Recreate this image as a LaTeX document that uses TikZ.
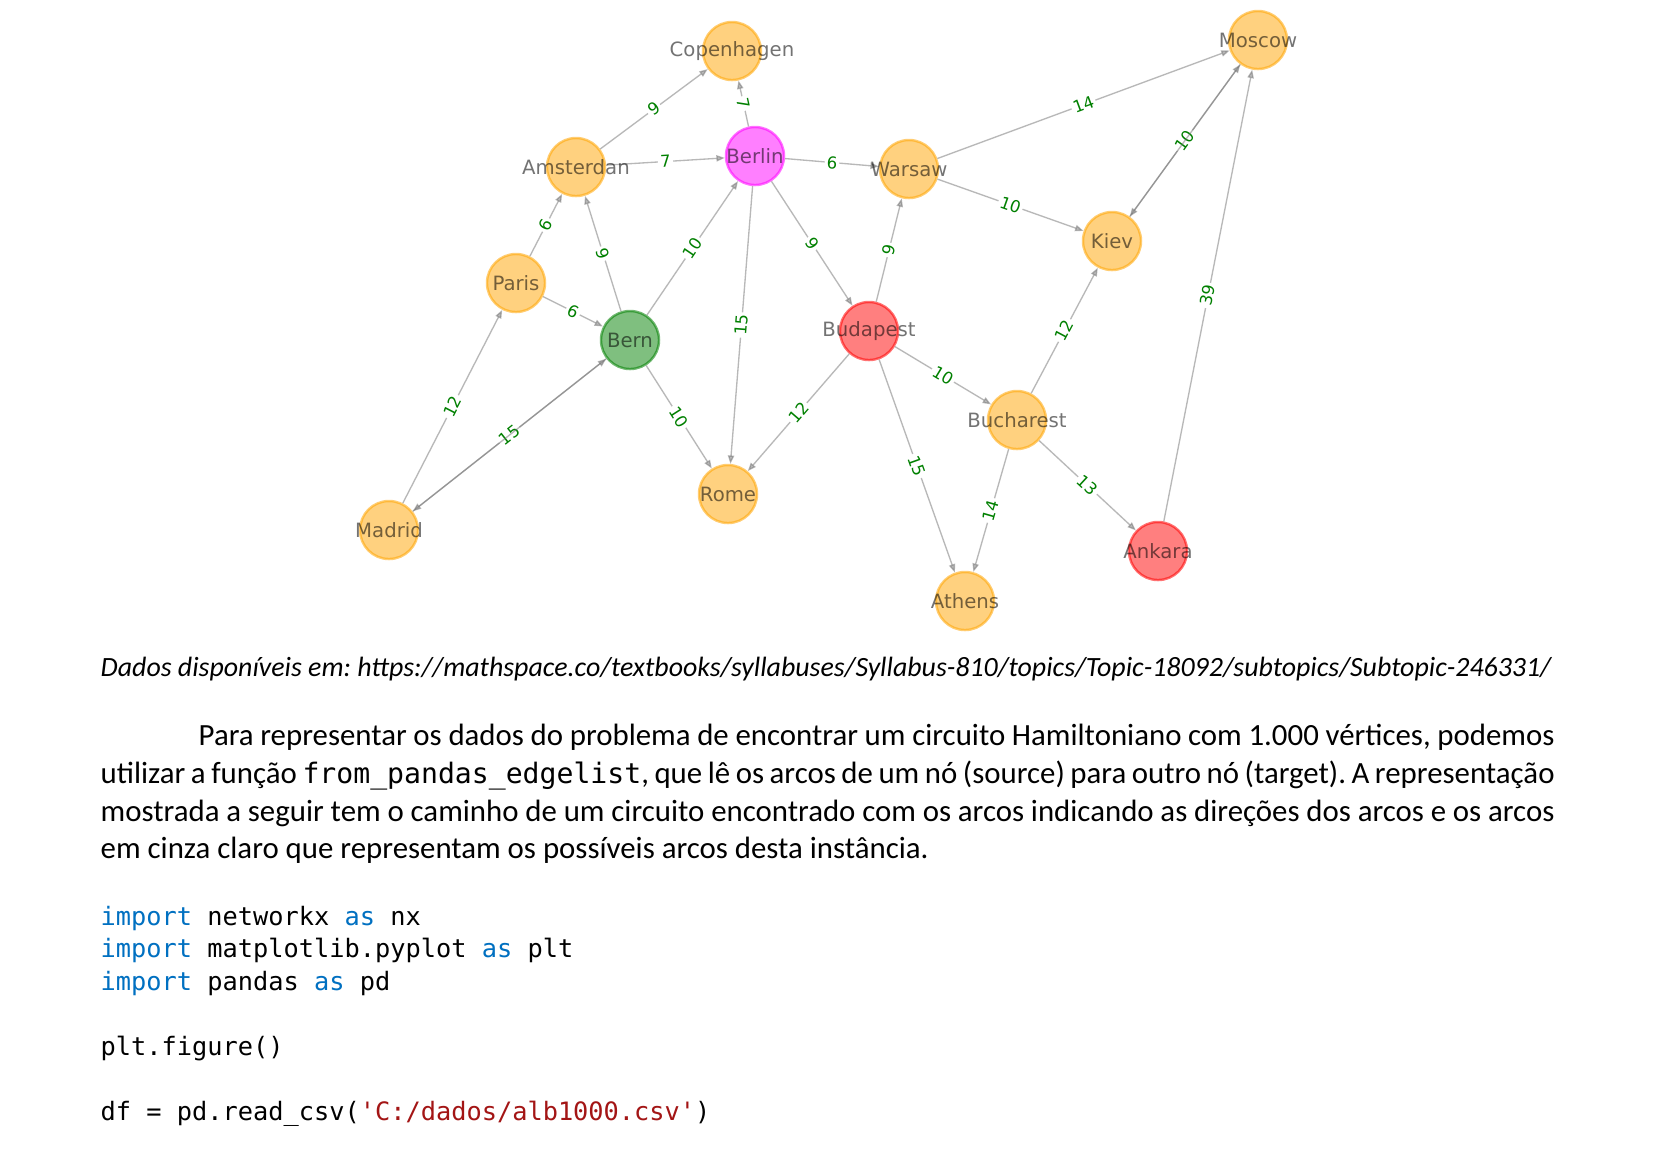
\documentclass[tikz,border=0pt]{standalone}
\usepackage{fontspec}
\setmainfont{Carlito}
\setmonofont{DejaVu Sans Mono}
\newfontfamily\dejavu{DejaVu Sans}
\usepackage{xcolor}
\usetikzlibrary{arrows.meta}

\definecolor{mplorange}{HTML}{FFA500}
\definecolor{mplgreen}{HTML}{008000}
\definecolor{mplmagenta}{HTML}{FF00FF}
\definecolor{mplred}{HTML}{FF0000}
\definecolor{kwblue}{HTML}{0070C1}
\definecolor{strred}{HTML}{A31515}

\newcommand{\kwd}[1]{\textcolor{kwblue}{#1}}
\newcommand{\strg}[1]{\textcolor{strred}{#1}}

\tikzset{
  city/.style={circle, minimum size=0.58cm, inner sep=0pt, line width=0.7pt, fill opacity=0.5, draw opacity=0.55},
  cname/.style={inner sep=0pt, font=\dejavu\fontsize{5.6}{6}\selectfont, text=black, text opacity=0.55},
  arc/.style={draw=black!55, opacity=0.5, line width=0.38pt, -{Triangle[length=2.4pt,width=1.8pt]}},
  wlbl/.style={sloped, opacity=1, fill=white, inner sep=0.6pt, text=mplgreen, font=\dejavu\fontsize{4.7}{5}\selectfont},
  body/.style={anchor=base west, inner sep=0pt, font=\fontsize{8.77}{10.7}\selectfont},
  code/.style={anchor=base west, inner sep=0pt, font=\ttfamily\fontsize{7.2}{9}\selectfont},
}

\frenchspacing
\begin{document}
\begin{tikzpicture}[x=0.01cm, y=-0.01cm]
\useasboundingbox[fill=white] (0,0) rectangle (1654,1153);

% cities
\foreach \n/\x/\y/\c in {cph/732/51/mplorange, mos/1258/40/mplorange, ams/576/167/mplorange,
    ber/755/156/mplmagenta, war/909/169/mplorange, kie/1112/241/mplorange, par/516/283/mplorange,
    brn/630/340/mplgreen, bud/869/331/mplred, buc/1017/420/mplorange, rom/728/494/mplorange,
    mad/389/530/mplorange, ank/1158/551/mplred, ath/965/601/mplorange}
    \node[city, fill=\c, draw=\c] (\n) at (\x,\y) {};

% arcs with weights
\foreach \a/\b/\w in {ams/cph/9, ber/cph/7, ams/ber/7, ber/war/6, war/mos/14, war/kie/10,
    kie/mos/10, ank/mos/39, par/ams/6, brn/ams/9, brn/ber/10, par/brn/6,
    mad/par/12, mad/brn/15, brn/rom/10, ber/rom/15, ber/bud/9, bud/war/9,
    bud/rom/12, bud/buc/10, bud/ath/15, buc/kie/12, buc/ath/14, buc/ank/13}
    \draw[arc] (\a) -- node[wlbl] {\w} (\b);
% arcs going back (same weight, label already there)
\draw[arc] (mos) -- (kie);
\draw[arc] (brn) -- (mad);

% city names
\foreach \n/\t in {cph/Copenhagen, mos/Moscow, ams/Amsterdan, ber/Berlin, war/Warsaw,
    kie/Kiev, par/Paris, brn/Bern, bud/Budapest, buc/Bucharest, rom/Rome, mad/Madrid,
    ank/Ankara, ath/Athens}
    \node[cname] (\n-t) at (\n) {\t};

% caption and text
\node[anchor=base west, inner sep=0pt, font=\itshape\fontsize{7.93}{9.8}\selectfont] (src) at (100,676)
    {Dados disponíveis em: https://mathspace.co/textbooks/syllabuses/Syllabus-810/topics/Topic-18092/subtopics/Subtopic-246331/};

\node[body] (l1) at (198,745) {\makebox[13.55cm][s]{Para representar os dados do problema de encontrar um circuito Hamiltoniano com 1.000 vértices, podemos}};
\node[body] (l2) at (100,783) {\makebox[14.53cm][s]{utilizar a função {\ttfamily\fontsize{8}{10}\selectfont from\_pandas\_edgelist}, que lê os arcos de um nó (source) para outro nó (target). A representação}};
\node[body] (l3) at (100,821) {\makebox[14.53cm][s]{mostrada a seguir tem o caminho de um circuito encontrado com os arcos indicando as direções dos arcos e os arcos}};
\node[body] (l4) at (100,858) {em cinza claro que representam os possíveis arcos desta instância.};

% code
\node[code] (c1) at (100,925) {\kwd{import} networkx \kwd{as} nx};
\node[code] (c2) at (100,957) {\kwd{import} matplotlib.pyplot \kwd{as} plt};
\node[code] (c3) at (100,990) {\kwd{import} pandas \kwd{as} pd};
\node[code] (c4) at (100,1055) {plt.figure()};
\node[code] (c5) at (100,1120) {df = pd.read\_csv(\strg{'C:/dados/alb1000.csv'})};
\end{tikzpicture}
\end{document}
